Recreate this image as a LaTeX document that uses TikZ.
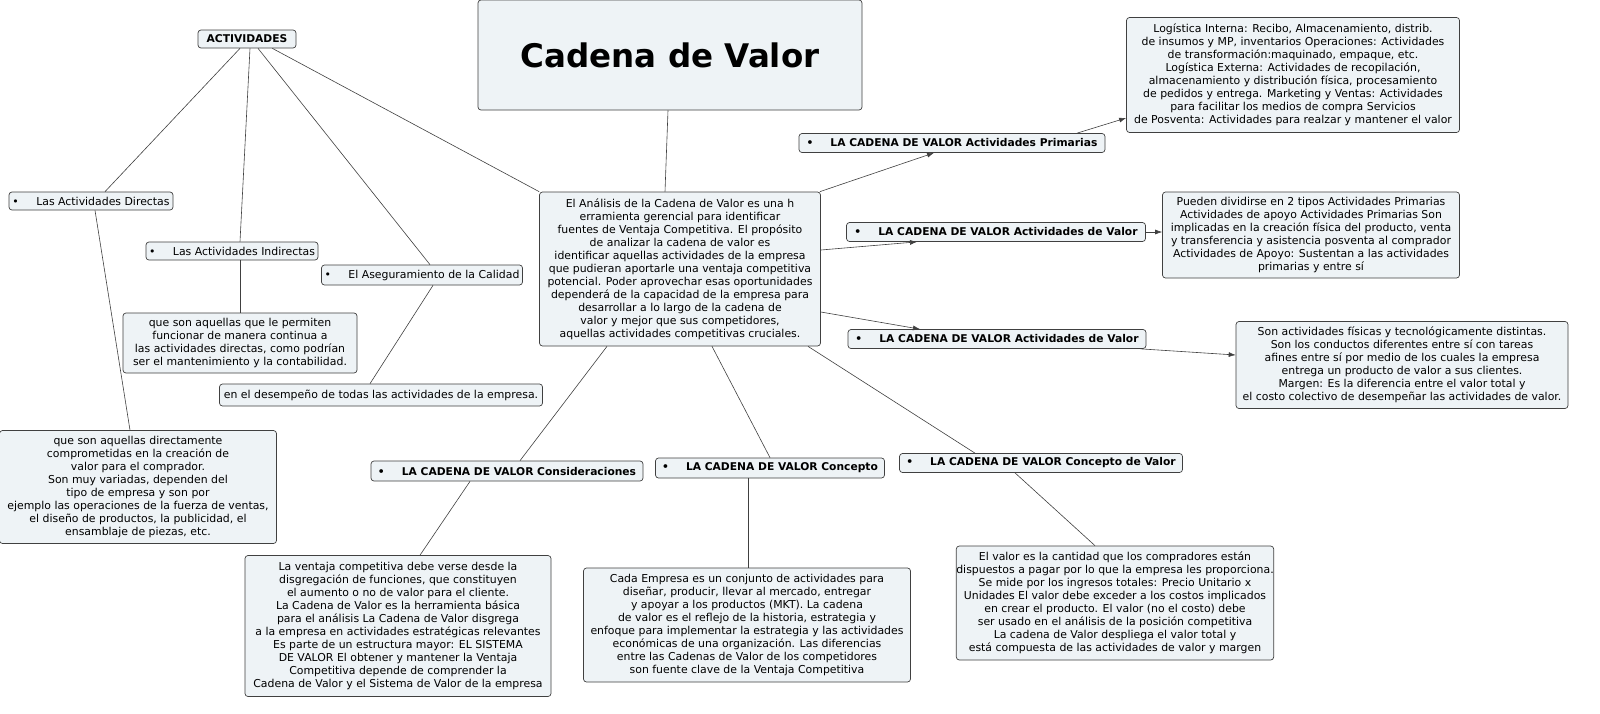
\documentclass[tikz,border=0pt]{standalone}
\usepackage{fontspec}
\setmainfont{DejaVu Sans}
\usetikzlibrary{arrows.meta}
\definecolor{boxfill}{HTML}{EEF3F6}
\definecolor{boxline}{HTML}{404040}
\begin{document}
\begin{tikzpicture}[x=1pt,y=-1pt,
  box/.style={draw=boxline,fill=boxfill,rounded corners=3pt,line width=0.7pt,align=center,
    font=\fontsize{10.9}{13}\selectfont,inner sep=0pt},
  bul/.style={box,font=\fontsize{10.9}{13}\selectfont},
  bbul/.style={box,font=\fontsize{10.7}{13}\selectfont\bfseries},
  ln/.style={draw=boxline,line width=0.6pt},
  ar/.style={ln,-{Latex[length=7pt,width=5pt]}}]
\useasboundingbox (0,0) rectangle (1600,713);
\fill[white] (0,0) rectangle (1600,713);
\newcommand{\bl}{\textbullet\hspace{1.6em}}
\node[box,minimum width=384,minimum height=110,font=\fontsize{32.5}{38}\selectfont\bfseries] (title) at (670,55) {Cadena de Valor};
\node[bbul,minimum width=98,minimum height=18] (act) at (247,39) {ACTIVIDADES};
\node[bul,minimum width=164,minimum height=18] (dir) at (91,201) {\bl Las Actividades Directas};
\node[bul,minimum width=172,minimum height=18] (ind) at (232,251) {\bl Las Actividades Indirectas};
\node[bul,minimum width=201,minimum height=20] (aseg) at (422,275) {\bl El Aseguramiento de la Calidad};
\node[box,minimum width=234,minimum height=60] (itext) at (240,343) {que son aquellas que le permiten\\funcionar de manera continua a\\las actividades directas, como podrían\\ser el mantenimiento y la contabilidad.};
\node[box,minimum width=323,minimum height=22] (desemp) at (381,395) {en el desempeño de todas las actividades de la empresa.};
\node[box,minimum width=277,minimum height=113] (dtext) at (138,487) {que son aquellas directamente\\comprometidas en la creación de\\valor para el comprador.\\Son muy variadas, dependen del\\tipo de empresa y son por\\ejemplo las operaciones de la fuerza de ventas,\\el diseño de productos, la publicidad, el\\ensamblaje de piezas, etc.};
\node[box,minimum width=281,minimum height=154] (central) at (680,269) {El Análisis de la Cadena de Valor es una h\\erramienta gerencial para identificar\\fuentes de Ventaja Competitiva. El propósito\\de analizar la cadena de valor es\\identificar aquellas actividades de la empresa\\que pudieran aportarle una ventaja competitiva\\potencial. Poder aprovechar esas oportunidades\\dependerá de la capacidad de la empresa para\\desarrollar a lo largo de la cadena de\\valor y mejor que sus competidores,\\aquellas actividades competitivas cruciales.};
\node[bbul,minimum width=306,minimum height=19] (prim) at (952,143) {\bl LA CADENA DE VALOR Actividades Primarias};
\node[box,minimum width=333,minimum height=115] (log) at (1293,75) {Logística Interna: Recibo, Almacenamiento, distrib.\\de insumos y MP, inventarios Operaciones: Actividades\\de transformación:maquinado, empaque, etc.\\Logística Externa: Actividades de recopilación,\\almacenamiento y distribución física, procesamiento\\de pedidos y entrega. Marketing y Ventas: Actividades\\para facilitar los medios de compra Servicios\\de Posventa: Actividades para realzar y mantener el valor};
\node[bbul,minimum width=299,minimum height=19] (av1) at (996,232) {\bl LA CADENA DE VALOR Actividades de Valor};
\node[box,minimum width=297,minimum height=86] (pueden) at (1311,235) {Pueden dividirse en 2 tipos Actividades Primarias\\Actividades de apoyo Actividades Primarias Son\\implicadas en la creación física del producto, venta\\y transferencia y asistencia posventa al comprador\\Actividades de Apoyo: Sustentan a las actividades\\primarias y entre sí};
\node[bbul,minimum width=298,minimum height=19] (av2) at (997,339) {\bl LA CADENA DE VALOR Actividades de Valor};
\node[box,minimum width=332,minimum height=87] (son) at (1402,365) {Son actividades físicas y tecnológicamente distintas.\\Son los conductos diferentes entre sí con tareas\\afines entre sí por medio de los cuales la empresa\\entrega un producto de valor a sus clientes.\\Margen: Es la diferencia entre el valor total y\\el costo colectivo de desempeñar las actividades de valor.};
\node[bbul,minimum width=272,minimum height=20] (cons) at (507,471) {\bl LA CADENA DE VALOR Consideraciones};
\node[bbul,minimum width=229,minimum height=20] (conc) at (770,468) {\bl LA CADENA DE VALOR Concepto};
\node[bbul,minimum width=283,minimum height=19] (cv) at (1041,463) {\bl LA CADENA DE VALOR Concepto de Valor};
\node[box,minimum width=306,minimum height=141] (vent) at (398,626) {La ventaja competitiva debe verse desde la\\disgregación de funciones, que constituyen\\el aumento o no de valor para el cliente.\\La Cadena de Valor es la herramienta básica\\para el análisis La Cadena de Valor disgrega\\a la empresa en actividades estratégicas relevantes\\Es parte de un estructura mayor: EL SISTEMA\\DE VALOR El obtener y mantener la Ventaja\\Competitiva depende de comprender la\\Cadena de Valor y el Sistema de Valor de la empresa};
\node[box,minimum width=327,minimum height=114] (cada) at (747,625) {Cada Empresa es un conjunto de actividades para\\diseñar, producir, llevar al mercado, entregar\\y apoyar a los productos (MKT). La cadena\\de valor es el reflejo de la historia, estrategia y\\enfoque para implementar la estrategia y las actividades\\económicas de una organización. Las diferencias\\entre las Cadenas de Valor de los competidores\\son fuente clave de la Ventaja Competitiva};
\node[box,minimum width=305,minimum height=114] (valor) at (1115,603) {El valor es la cantidad que los compradores están\\dispuestos a pagar por lo que la empresa les proporciona.\\Se mide por los ingresos totales: Precio Unitario x\\Unidades El valor debe exceder a los costos implicados\\en crear el producto. El valor (no el costo) debe\\ser usado en el análisis de la posición competitiva\\La cadena de Valor despliega el valor total y\\está compuesta de las actividades de valor y margen};
% connectors
\draw[ln] ([xshift=-2]title.south) -- ([xshift=-15]central.north);
\draw[ln] ([xshift=-7]act.south) -- ([xshift=14]dir.north);
\draw[ln] ([xshift=3]act.south) -- ([xshift=8]ind.north);
\draw[ln] ([xshift=11]act.south) -- ([xshift=8]aseg.north);
\draw[ln] ([xshift=-24]act.south east) -- (central.north west);
\draw[ln] ([xshift=4]dir.south) -- ([xshift=-8]dtext.north);
\draw[ln] ([xshift=8]ind.south) -- (itext.north);
\draw[ln] ([xshift=11]aseg.south) -- ([xshift=-11]desemp.north);
\draw[ar] ([xshift=-1]central.north east) -- ([xshift=-18]prim.south);
\draw[ar] ([yshift=19]central.east) -- ([xshift=-79]av1.south);
\draw[ar] ([yshift=-43]central.east) -- ([xshift=-77]av2.north);
\draw[ln] ([xshift=-73]central.south) -- ([xshift=13]cons.north);
\draw[ln] ([xshift=32]central.south) -- (conc.north);
\draw[ln] ([xshift=128]central.south) -- ([xshift=-66]cv.north);
\draw[ar] ([xshift=125]prim.north) -- ([yshift=-43]log.west);
\draw[ar] (av1.east) -- (pueden.west |- av1.east);
\draw[ar] ([xshift=-6]av2.south east) -- ([yshift=10]son.west);
\draw[ln] ([xshift=-37]cons.south) -- ([xshift=22]vent.north);
\draw[ln] ([xshift=-22]conc.south) -- ([xshift=1]cada.north);
\draw[ln] ([xshift=-26]cv.south) -- ([xshift=-20]valor.north);
\end{tikzpicture}
\end{document}
